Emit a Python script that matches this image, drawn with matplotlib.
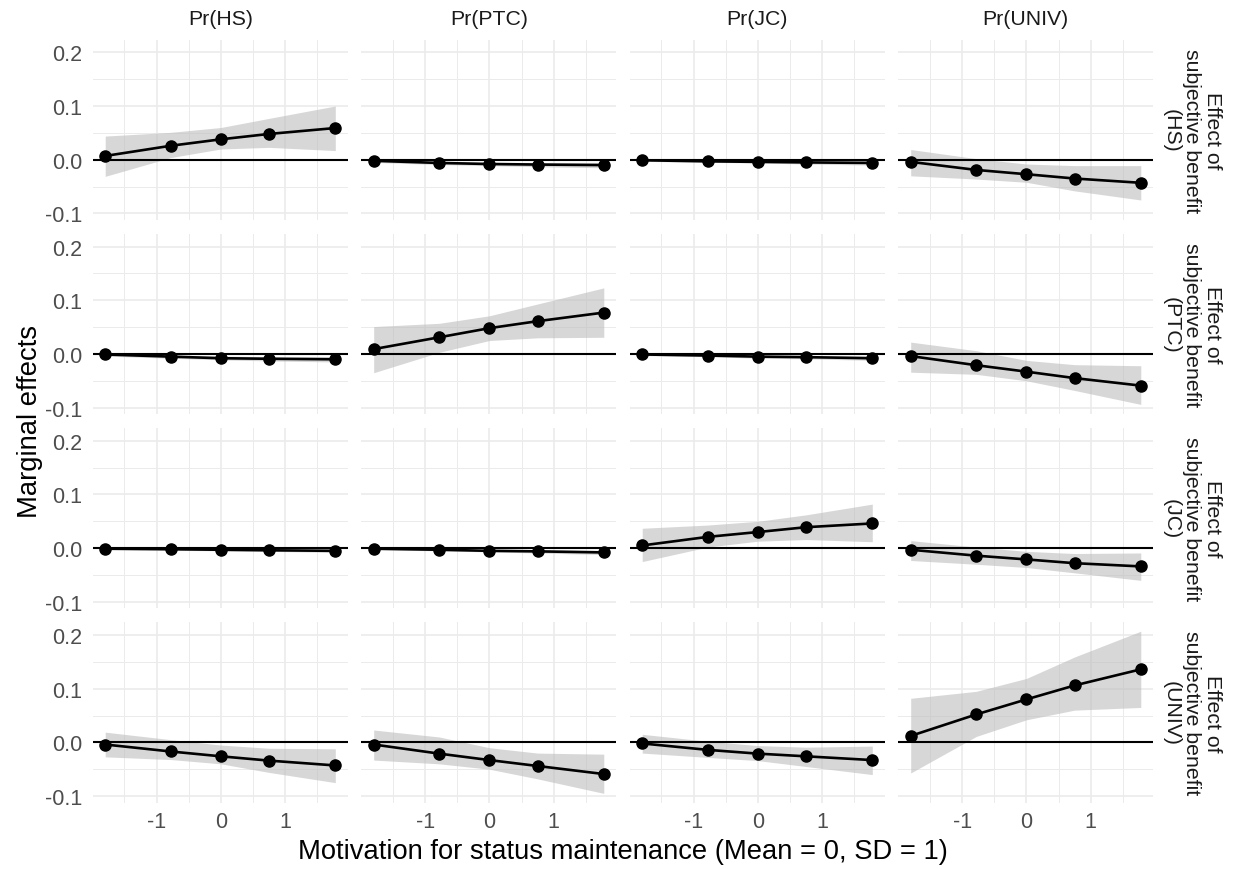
import numpy as np
import matplotlib as mpl
mpl.use('Agg')
import matplotlib.pyplot as plt

plt.rcParams['font.family'] = ['Liberation Sans', 'DejaVu Sans']

# motivation for status maintenance (standardised), evaluation points
motiv = [-1.8, -0.78, 0.0, 0.75, 1.78]

outcomes = ['Pr(HS)', 'Pr(PTC)', 'Pr(JC)', 'Pr(UNIV)']
benefits = ['HS', 'PTC', 'JC', 'UNIV']

# marginal effects, one list per outcome column (HS, PTC, JC, UNIV)
est_HS = [[0.007, 0.026, 0.038, 0.048, 0.059],
          [-0.002, -0.006, -0.008, -0.009, -0.010],
          [-0.001, -0.003, -0.004, -0.005, -0.006],
          [-0.004, -0.019, -0.027, -0.035, -0.043]]
lo_HS = [[-0.031, 0.004, 0.020, 0.023, 0.017],
         [-0.005, -0.009, -0.011, -0.013, -0.015],
         [-0.003, -0.005, -0.006, -0.008, -0.010],
         [-0.030, -0.036, -0.042, -0.058, -0.075]]
hi_HS = [[0.044, 0.051, 0.060, 0.077, 0.100],
         [0.001, -0.003, -0.005, -0.005, -0.005],
         [0.001, -0.001, -0.002, -0.002, -0.002],
         [0.019, 0.002, -0.008, -0.011, -0.011]]

est_PTC = [[-0.001, -0.005, -0.008, -0.009, -0.010],
           [0.009, 0.031, 0.048, 0.061, 0.077],
           [-0.001, -0.003, -0.005, -0.006, -0.008],
           [-0.004, -0.021, -0.033, -0.045, -0.059]]
lo_PTC = [[-0.004, -0.008, -0.011, -0.013, -0.015],
          [-0.035, 0.003, 0.025, 0.030, 0.031],
          [-0.003, -0.005, -0.008, -0.009, -0.012],
          [-0.034, -0.038, -0.050, -0.068, -0.094]]
hi_PTC = [[0.003, -0.002, -0.004, -0.005, -0.005],
          [0.051, 0.057, 0.071, 0.093, 0.123],
          [0.001, -0.001, -0.002, -0.003, -0.004],
          [0.022, 0.006, -0.012, -0.020, -0.022]]

est_JC = [[-0.001, -0.002, -0.003, -0.004, -0.005],
          [-0.001, -0.003, -0.005, -0.006, -0.008],
          [0.005, 0.021, 0.030, 0.039, 0.046],
          [-0.003, -0.014, -0.021, -0.028, -0.034]]
lo_JC = [[-0.003, -0.004, -0.005, -0.006, -0.008],
         [-0.003, -0.005, -0.007, -0.009, -0.012],
         [-0.025, 0.002, 0.013, 0.016, 0.012],
         [-0.023, -0.030, -0.036, -0.046, -0.060]]
hi_JC = [[0.001, 0.000, -0.001, -0.002, -0.002],
         [0.001, -0.001, -0.003, -0.003, -0.004],
         [0.037, 0.043, 0.050, 0.062, 0.082],
         [0.014, 0.002, -0.006, -0.010, -0.009]]

est_UNIV = [[-0.004, -0.017, -0.026, -0.034, -0.043],
            [-0.004, -0.021, -0.033, -0.044, -0.059],
            [-0.002, -0.014, -0.021, -0.026, -0.033],
            [0.012, 0.052, 0.080, 0.106, 0.136]]
lo_UNIV = [[-0.027, -0.032, -0.040, -0.056, -0.075],
           [-0.033, -0.040, -0.050, -0.068, -0.095],
           [-0.020, -0.028, -0.034, -0.045, -0.060],
           [-0.057, 0.011, 0.042, 0.060, 0.065]]
hi_UNIV = [[0.019, 0.005, -0.005, -0.011, -0.012],
           [0.023, 0.010, -0.010, -0.020, -0.022],
           [0.015, 0.002, -0.006, -0.009, -0.007],
           [0.082, 0.095, 0.119, 0.159, 0.207]]

est = [est_HS, est_PTC, est_JC, est_UNIV]
lo = [lo_HS, lo_PTC, lo_JC, lo_UNIV]
hi = [hi_HS, hi_PTC, hi_JC, hi_UNIV]

W, H = 1235, 870
fig, axes = plt.subplots(4, 4, figsize=(W / 100, H / 100), dpi=100,
                         sharex=True, sharey=True)
fig.subplots_adjust(left=93 / W, right=1153 / W, top=1 - 40.7 / H,
                    bottom=1 - 803.5 / H, wspace=0.055, hspace=0.078)

tick_col = '#4d4d4d'
for i in range(4):
    for j in range(4):
        ax = axes[i, j]
        for s in ax.spines.values():
            s.set_visible(False)
        ax.set_xlim(-1.99, 1.97)
        ax.set_ylim(-0.112, 0.2235)
        ax.set_xticks([-1, 0, 1])
        ax.set_xticklabels(['-1', '0', '1'])
        ax.set_xticks([-1.5, -0.5, 0.5, 1.5], minor=True)
        ax.set_yticks([-0.1, 0.0, 0.1, 0.2])
        ax.set_yticklabels(['-0.1', '0.0', '0.1', '0.2'])
        ax.set_yticks([-0.05, 0.05, 0.15], minor=True)
        ax.grid(True, which='major', color='#ebebeb', linewidth=1.2)
        ax.grid(True, which='minor', color='#ebebeb', linewidth=0.7)
        ax.set_axisbelow(True)
        ax.tick_params(which='both', length=0, labelsize=15.5,
                       labelcolor=tick_col)
        ax.tick_params(axis='y', pad=8)
        ax.tick_params(axis='x', pad=6)

        ax.fill_between(motiv, lo[i][j], hi[i][j], color='#bdbdbd',
                        alpha=0.6, linewidth=0, zorder=1)
        ax.axhline(0, color='black', linewidth=1.5, zorder=2)
        ax.plot(motiv, est[i][j], color='black', linewidth=1.9,
                marker='o', markersize=8, zorder=3)

        if i == 0:
            ax.annotate(outcomes[j], xy=(0.5, 1), xycoords='axes fraction',
                        xytext=(0, 15.5), textcoords='offset points',
                        ha='center', va='center', fontsize=15.3,
                        color='#1a1a1a')
        if j == 3:
            ax.annotate('Effect of\nsubjective benefit\n(' + benefits[i] + ')',
                        xy=(1, 0.5), xycoords='axes fraction',
                        xytext=(28, 0), textcoords='offset points',
                        ha='center', va='center', rotation=270,
                        multialignment='center', fontsize=15.3,
                        color='#1a1a1a', linespacing=1.1)

fig.text(623 / W, 1 - 852 / H,
         'Motivation for status maintenance (Mean = 0, SD = 1)',
         ha='center', va='center', fontsize=19.7)
fig.text(30 / W, 1 - 422 / H, 'Marginal effects', ha='center',
         va='center', rotation=90, fontsize=19.7)

fig.savefig('out.png', dpi=100)
